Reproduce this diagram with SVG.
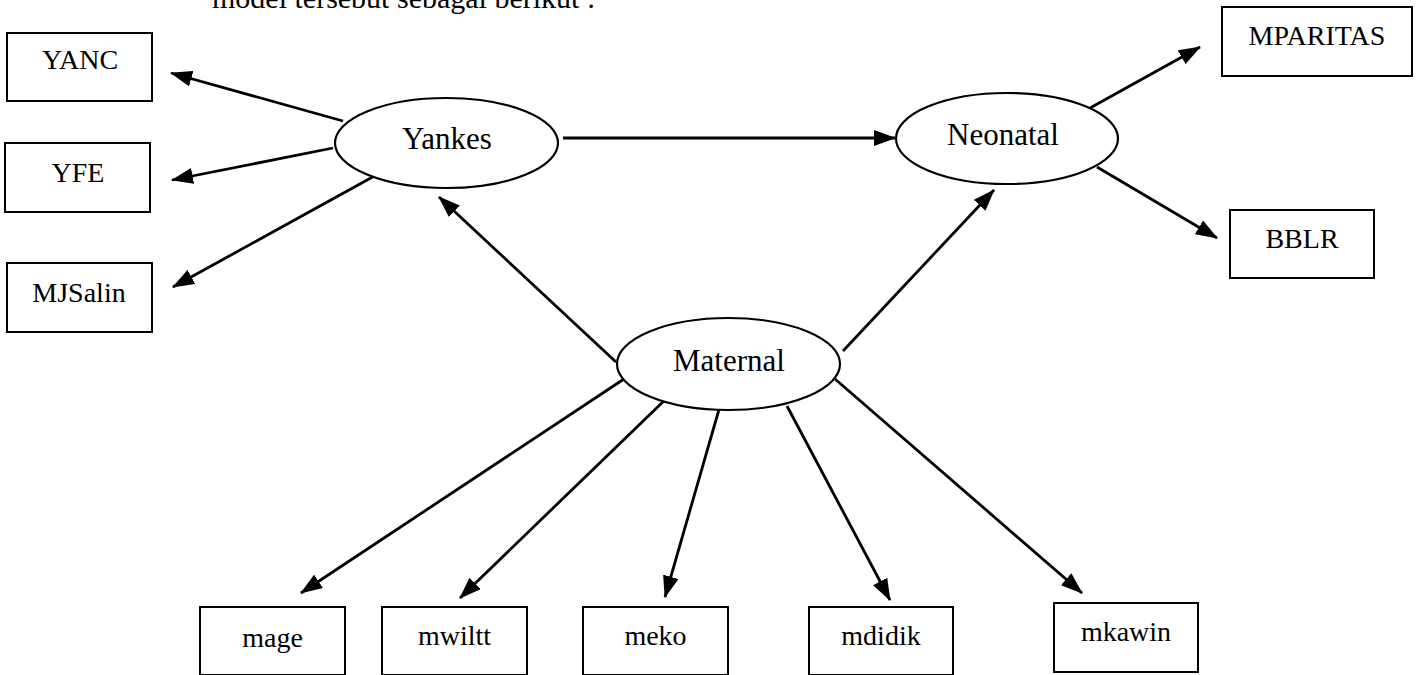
<svg xmlns="http://www.w3.org/2000/svg" width="1418" height="675" viewBox="0 0 1418 675">
  <defs>
    <marker id="arrow" markerUnits="userSpaceOnUse" markerWidth="22" markerHeight="16" refX="21" refY="8" orient="auto">
      <path d="M0,0 L22,8 L0,16 z" fill="#000"/>
    </marker>
    <style>
      .box { fill: #fff; stroke: #000; stroke-width: 2; }
      .ell { fill: #fff; stroke: #000; stroke-width: 2.2; }
      .lbl { font-family: "Liberation Serif", "Times New Roman", serif; font-size: 28px; fill: #000; text-anchor: middle; }
      .big { font-size: 31px; }
      .edge { stroke: #000; stroke-width: 2.8; fill: none; marker-end: url(#arrow); }
    </style>
  </defs>
  <rect width="1418" height="675" fill="#fff"/>

  <!-- running text above the figure, cut by the page edge -->
  <text x="212" y="8" font-family="'Liberation Serif', serif" font-size="30" fill="#000">model tersebut sebagai berikut :</text>

  <g id="connectors">
    <line class="edge" x1="343" y1="121" x2="171" y2="73"/>
    <line class="edge" x1="333" y1="148" x2="172" y2="180"/>
    <line class="edge" x1="378" y1="174" x2="173" y2="287"/>
    <line class="edge" x1="563" y1="138" x2="895" y2="138"/>
    <line class="edge" x1="1090" y1="108" x2="1200" y2="47"/>
    <line class="edge" x1="1097" y1="167" x2="1217" y2="238"/>
    <line class="edge" x1="616" y1="362" x2="439" y2="197"/>
    <line class="edge" x1="843" y1="351" x2="994" y2="190"/>
    <line class="edge" x1="627" y1="377" x2="301" y2="593"/>
    <line class="edge" x1="668" y1="397" x2="460" y2="598"/>
    <line class="edge" x1="720" y1="406" x2="665" y2="597"/>
    <line class="edge" x1="787" y1="406" x2="890" y2="600"/>
    <line class="edge" x1="835" y1="379" x2="1082" y2="593"/>
  </g>

  <g id="yankes">
    <ellipse class="ell" cx="446.5" cy="143" rx="111.5" ry="45"/>
    <text class="lbl big" x="447" y="149">Yankes</text>
  </g>
  <g id="neonatal">
    <ellipse class="ell" cx="1007" cy="138.5" rx="111" ry="45.5"/>
    <text class="lbl big" x="1003" y="145">Neonatal</text>
  </g>
  <g id="maternal">
    <ellipse class="ell" cx="728.5" cy="364" rx="111.5" ry="46"/>
    <text class="lbl big" x="729" y="371">Maternal</text>
  </g>

  <g id="yanc">
    <rect class="box" x="7" y="33" width="145" height="68"/>
    <text class="lbl" x="80" y="69">YANC</text>
  </g>
  <g id="yfe">
    <rect class="box" x="5" y="143" width="145" height="69"/>
    <text class="lbl" x="78" y="182">YFE</text>
  </g>
  <g id="mjsalin">
    <rect class="box" x="7" y="263" width="145" height="69"/>
    <text class="lbl" x="79" y="302">MJSalin</text>
  </g>
  <g id="mparitas">
    <rect class="box" x="1222" y="7" width="190" height="69"/>
    <text class="lbl" x="1317" y="45">MPARITAS</text>
  </g>
  <g id="bblr">
    <rect class="box" x="1230" y="210" width="144" height="68"/>
    <text class="lbl" x="1302" y="248">BBLR</text>
  </g>
  <g id="mage">
    <rect class="box" x="200" y="607" width="145" height="68"/>
    <text class="lbl" x="272.5" y="647">mage</text>
  </g>
  <g id="mwiltt">
    <rect class="box" x="382" y="607" width="145" height="68"/>
    <text class="lbl" x="454.5" y="645">mwiltt</text>
  </g>
  <g id="meko">
    <rect class="box" x="583" y="607" width="145" height="68"/>
    <text class="lbl" x="655.5" y="645">meko</text>
  </g>
  <g id="mdidik">
    <rect class="box" x="809" y="607" width="144" height="68"/>
    <text class="lbl" x="881" y="645">mdidik</text>
  </g>
  <g id="mkawin">
    <rect class="box" x="1054" y="603" width="144" height="69"/>
    <text class="lbl" x="1126" y="641">mkawin</text>
  </g>
</svg>
